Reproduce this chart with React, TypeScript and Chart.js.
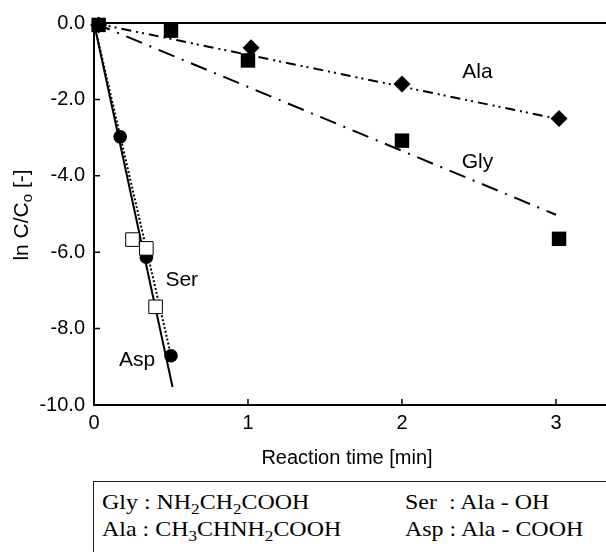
import React, { useEffect, useRef } from 'react';
import { Chart, registerables } from 'chart.js';

Chart.register(...registerables);

// ---- data ----
const glyTime = [0.03, 0.5, 1.0, 2.0, 3.02];
const glyLnC = [-0.05, -0.2, -0.98, -3.08, -5.65];
const alaTime = [0.03, 1.02, 2.0, 3.02];
const alaLnC = [-0.05, -0.65, -1.6, -2.5];
const serTime = [0.25, 0.34, 0.4];
const serLnC = [-5.67, -5.9, -7.43];
const aspTime = [0.17, 0.34, 0.5];
const aspLnC = [-2.98, -6.13, -8.71];

const glyFitTime = [0, 3];
const glyFitLnC = [0, -5.02];
const alaFitTime = [0, 3];
const alaFitLnC = [0, -2.5];
const serFitTime = [0, 0.5];
const serFitLnC = [0, -8.7];
const aspFitTime = [0, 0.51];
const aspFitLnC = [0, -9.53];

const xTickValues = [0, 1, 2, 3];
const yTickValues = [0, -2, -4, -6, -8, -10];
const xTickMarks = [1, 2, 3];
const yTickMarks = [-2, -4, -6, -8];

const seriesNames = ['Ala', 'Gly', 'Ser', 'Asp'];
const seriesNameTime = [2.49, 2.49, 0.57, 0.28];
const seriesNameLnC = [-1.28, -3.64, -6.73, -8.83];

const xTitle = 'Reaction time [min]';

const SANS = '"Liberation Sans", Arial, Helvetica, sans-serif';
const SERIF = '"Liberation Serif", "Times New Roman", serif';

const pts = (xs: number[], ys: number[]) => xs.map((x, i) => ({ x, y: ys[i] }));

const overlayPlugin = {
  id: 'overlay',
  beforeDatasetsDraw(chart: any) {
    const { ctx, chartArea: a, scales } = chart;
    const x = scales.x;
    const y = scales.y;
    ctx.save();
    ctx.strokeStyle = '#000';
    ctx.lineWidth = 2;
    ctx.beginPath();
    ctx.moveTo(a.left, a.top);
    ctx.lineTo(a.left, a.bottom);
    ctx.lineTo(a.right, a.bottom);
    const y0 = y.getPixelForValue(0);
    ctx.moveTo(a.left, y0);
    ctx.lineTo(a.right, y0);
    ctx.stroke();
    ctx.lineWidth = 1.5;
    ctx.beginPath();
    for (const v of yTickMarks) {
      const py = y.getPixelForValue(v);
      ctx.moveTo(a.left, py);
      ctx.lineTo(a.left + 6, py);
    }
    for (const v of xTickMarks) {
      const px = x.getPixelForValue(v);
      ctx.moveTo(px, a.bottom);
      ctx.lineTo(px, a.bottom - 6);
    }
    ctx.stroke();
    ctx.restore();
  },
  afterDatasetsDraw(chart: any) {
    const { ctx, scales } = chart;
    const x = scales.x;
    const y = scales.y;
    ctx.save();
    ctx.fillStyle = '#000';
    ctx.font = `21px ${SANS}`;
    ctx.textAlign = 'center';
    ctx.textBaseline = 'middle';
    seriesNames.forEach((n, i) => {
      ctx.fillText(n, x.getPixelForValue(seriesNameTime[i]), y.getPixelForValue(seriesNameLnC[i]));
    });
    // x title
    ctx.font = `20px ${SANS}`;
    ctx.textBaseline = 'alphabetic';
    ctx.fillText(xTitle, 347, 464);
    // y title with subscript
    ctx.translate(27.5, 215);
    ctx.rotate(-Math.PI / 2);
    ctx.textAlign = 'left';
    const big = `21px ${SANS}`;
    const small = `15px ${SANS}`;
    const p1 = 'ln C/C';
    const p2 = 'o';
    const p3 = ' [-]';
    ctx.font = big;
    const w1 = ctx.measureText(p1).width;
    const w3 = ctx.measureText(p3).width;
    ctx.font = small;
    const w2 = ctx.measureText(p2).width;
    let cx = -(w1 + w2 + w3) / 2;
    ctx.font = big;
    ctx.fillText(p1, cx, 0);
    cx += w1;
    ctx.font = small;
    ctx.fillText(p2, cx, 4);
    cx += w2;
    ctx.font = big;
    ctx.fillText(p3, cx, 0);
    ctx.restore();
  },
};

function App() {
  const ref = useRef<HTMLCanvasElement | null>(null);
  useEffect(() => {
    if (!ref.current) return;
    const chart = new Chart(ref.current, {
      type: 'scatter',
      data: {
        datasets: [
          {
            label: 'Gly',
            data: pts(glyTime, glyLnC),
            pointStyle: 'rect',
            pointRadius: 10.2,
            backgroundColor: '#000',
            borderColor: '#000',
            borderWidth: 0,
            showLine: false,
            order: 0,
            clip: false,
          },
          {
            label: 'Ala',
            data: pts(alaTime, alaLnC),
            pointStyle: 'rectRot',
            pointRadius: 8.5,
            backgroundColor: '#000',
            borderColor: '#000',
            borderWidth: 0,
            showLine: false,
            order: 0,
            clip: false,
          },
          {
            label: 'Ser',
            data: pts(serTime, serLnC),
            pointStyle: 'rect',
            pointRadius: 9.6,
            backgroundColor: '#fff',
            borderColor: '#000',
            borderWidth: 1,
            showLine: false,
            order: 0,
            clip: false,
          },
          {
            label: 'Asp',
            data: pts(aspTime, aspLnC),
            pointStyle: 'circle',
            pointRadius: 6.8,
            backgroundColor: '#000',
            borderColor: '#000',
            borderWidth: 0,
            showLine: false,
            order: 0,
            clip: false,
          },
          {
            label: 'Gly fit',
            data: pts(glyFitTime, glyFitLnC),
            showLine: true,
            pointRadius: 0,
            borderColor: '#000',
            borderWidth: 2,
            borderDash: [17, 8, 2, 8],
            order: 1,
            clip: false,
          },
          {
            label: 'Ala fit',
            data: pts(alaFitTime, alaFitLnC),
            showLine: true,
            pointRadius: 0,
            borderColor: '#000',
            borderWidth: 2,
            borderDash: [10, 5, 2, 4, 2, 5],
            order: 1,
            clip: false,
          },
          {
            label: 'Ser fit',
            data: pts(serFitTime, serFitLnC),
            showLine: true,
            pointRadius: 0,
            borderColor: '#000',
            borderWidth: 2,
            borderDash: [2, 2],
            order: 1,
            clip: false,
          },
          {
            label: 'Asp fit',
            data: pts(aspFitTime, aspFitLnC),
            showLine: true,
            pointRadius: 0,
            borderColor: '#000',
            borderWidth: 2,
            order: 1,
            clip: false,
          },
        ],
      },
      options: {
        responsive: false,
        animation: false,
        devicePixelRatio: 1,
        layout: { autoPadding: false, padding: { top: 23, right: 0, left: 0, bottom: 0 } },
        plugins: {
          legend: { display: false },
          tooltip: { enabled: false },
        },
        scales: {
          x: {
            type: 'linear',
            min: 0,
            max: 3.325,
            afterFit: (s: any) => {
              s.height = 65;
              s.paddingLeft = 0;
              s.paddingRight = 0;
            },
            afterBuildTicks: (s: any) => {
              s.ticks = xTickValues.map((v) => ({ value: v }));
            },
            ticks: {
              color: '#000',
              font: { family: SANS, size: 20 },
              padding: 6,
              callback: (v: any) => String(v),
            },
            grid: { display: false, drawTicks: false },
            border: { display: false },
          },
          y: {
            type: 'linear',
            min: -10,
            max: 0,
            afterFit: (s: any) => {
              s.width = 94;
              s.paddingTop = 0;
              s.paddingBottom = 0;
            },
            afterBuildTicks: (s: any) => {
              s.ticks = yTickValues.map((v) => ({ value: v }));
            },
            ticks: {
              color: '#000',
              font: { family: SANS, size: 20 },
              padding: 9,
              callback: (v: any) => Number(v).toFixed(1),
            },
            grid: { display: false, drawTicks: false },
            border: { display: false },
          },
        },
      },
      plugins: [overlayPlugin],
    } as any);
    return () => chart.destroy();
  }, []);

  const rowStyle: React.CSSProperties = {
    position: 'absolute',
    fontFamily: SERIF,
    fontSize: 21,
    lineHeight: '21px',
    whiteSpace: 'pre',
    color: '#000',
    transform: 'scaleX(1.14)',
    transformOrigin: 'left top',
  };
  const sub: React.CSSProperties = { fontSize: 15, verticalAlign: 'sub', lineHeight: 0 };

  return (
    <div style={{ position: 'absolute', left: 0, top: 0, width: 606, height: 552, overflow: 'hidden', background: '#fff' }}>
      <canvas ref={ref} width={606} height={470} style={{ display: 'block', position: 'absolute', left: 0, top: 0 }} />
      <div
        style={{
          position: 'absolute',
          left: 93,
          top: 481,
          width: 560,
          height: 120,
          borderTop: '1.5px solid #222',
          borderLeft: '1.5px solid #222',
        }}
      />
      <div style={{ ...rowStyle, left: 102, top: 492 }}>
        Gly : NH<span style={sub}>2</span>CH<span style={sub}>2</span>COOH
      </div>
      <div style={{ ...rowStyle, left: 102, top: 519 }}>
        Ala : CH<span style={sub}>3</span>CHNH<span style={sub}>2</span>COOH
      </div>
      <div style={{ ...rowStyle, left: 405, top: 492 }}>{'Ser\u00a0 : Ala - OH'}</div>
      <div style={{ ...rowStyle, left: 405, top: 519 }}>{'Asp : Ala - COOH'}</div>
    </div>
  );
}

export default App;
